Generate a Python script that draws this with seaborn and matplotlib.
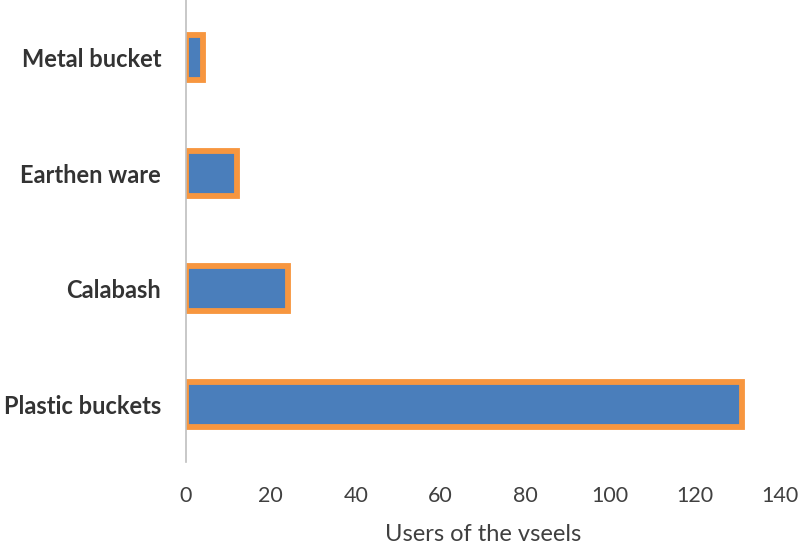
import matplotlib
matplotlib.use("Agg")
import matplotlib.pyplot as plt
import seaborn as sns
import pandas as pd

categories = ["Metal bucket", "Earthen ware", "Calabash", "Plastic buckets"]
users = [4, 12, 24, 131]
x_ticks = [0, 20, 40, 60, 80, 100, 120, 140]

sns.set_theme(style="white")
plt.rcParams['font.family'] = ['Lato', 'DejaVu Sans']

df = pd.DataFrame({"vessel": categories, "users": users})

fig = plt.figure(figsize=(8, 5.47), dpi=100)
ax = fig.add_axes([0.2325, 0.1554, 0.7425, 0.8446])

sns.barplot(data=df, y="vessel", x="users", order=categories, orient="h",
            color="#4A7EBB", saturation=1, width=0.39,
            edgecolor="#F7963F", linewidth=4.2, ax=ax)

ax.set_xlim(0, 140)
ax.set_ylim(3.5, -0.5)
ax.set_xticks(x_ticks)
ax.set_xticklabels([str(t) for t in x_ticks], fontsize=15.5, color="#404040")
ax.tick_params(axis="x", length=0, pad=17)
ax.tick_params(axis="y", length=0, pad=18)
for lab in ax.get_yticklabels():
    lab.set_fontsize(17)
    lab.set_fontweight("bold")
    lab.set_color("#333333")

ax.set_ylabel("")
ax.set_xlabel("Users of the vseels", fontsize=17, color="#404040", labelpad=13)

for s in ["top", "right", "bottom"]:
    ax.spines[s].set_visible(False)
ax.spines["left"].set_color("#BFBFBF")
ax.spines["left"].set_linewidth(1.2)

fig.savefig("out.png", dpi=100)
